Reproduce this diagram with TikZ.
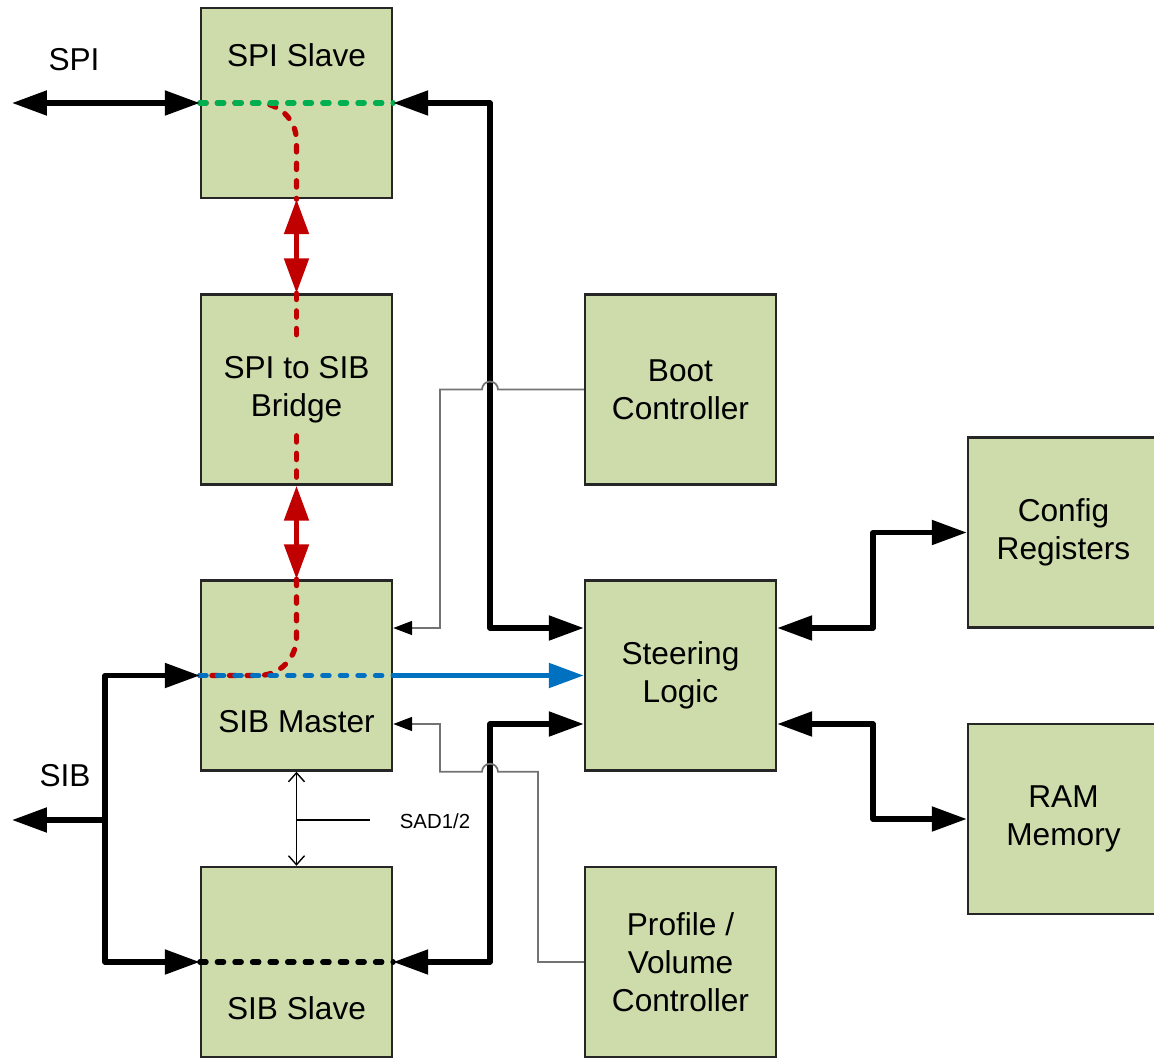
\documentclass[tikz,border=0pt]{standalone}
\usepackage{fontspec}
\setmainfont{Liberation Sans}
\usetikzlibrary{arrows.meta,calc}
\definecolor{blockgreen}{RGB}{205,220,170}
\definecolor{sibred}{RGB}{192,0,0}
\definecolor{spigreen}{RGB}{0,176,80}
\definecolor{sibblue}{RGB}{0,112,192}
\definecolor{ctrlgray}{RGB}{115,115,115}
\begin{document}
\begin{tikzpicture}[
    font=\fontsize{9}{10.8}\selectfont,
    >={Triangle[length=3.5mm,width=2.4mm]},
    block/.style={shape=rectangle,draw=black!85,line width=0.7pt,fill=blockgreen,minimum width=1.91cm,minimum height=1.90cm,align=center,inner sep=1pt},
    bus/.style={line width=1.5pt,line join=round},
    redbus/.style={sibred,line width=1.5pt,<->},
    bluebus/.style={sibblue,line width=1.5pt,->},
    busdash/.style={line width=1.5pt,line cap=round,dash pattern=on 1.8pt off 3.2pt},
    redpath/.style={busdash,sibred,rounded corners=3.8mm},
    ctrl/.style={ctrlgray,line width=0.5pt,-{Triangle[length=1.9mm,width=1.4mm,black]}},
    sadline/.style={line width=0.4pt},
    sadarrow/.style={sadline,{Straight Barb[length=0.9mm,width=1.6mm]}-{Straight Barb[length=0.9mm,width=1.6mm]}}
]
    \useasboundingbox (0,0) rectangle (11.54,-10.59);

    \node[block] (spislave) at (2.965,-1.03) {};
    \node (spislavetxt) at (2.965,-0.55) {SPI Slave};
    \node[block] (bridge) at (2.965,-3.895) {};
    \node[align=center] (bridgetxt) at (2.965,-3.90) {SPI to SIB\\Bridge};
    \node[block] (sibmaster) at (2.965,-6.755) {};
    \node (sibmastertxt) at (2.965,-7.22) {SIB Master};
    \node[block] (sibslave) at (2.965,-9.62) {};
    \node (sibslavetxt) at (2.965,-10.08) {SIB Slave};
    \node[block] (boot) at (6.805,-3.895) {Boot\\Controller};
    \node[block] (steer) at (6.805,-6.755) {Steering\\Logic};
    \node[block] (profile) at (6.805,-9.62) {Profile /\\Volume\\Controller};
    \node[block] (config) at (10.635,-5.325) {Config\\Registers};
    \node[block] (ram) at (10.635,-8.19) {RAM\\Memory};

    \node (spilabel) at (0.74,-0.60) {SPI};
    \node (siblabel) at (0.65,-7.76) {SIB};
    \node[font=\fontsize{5.8}{7}\selectfont] (sadlabel) at (4.35,-8.21) {SAD1/2};

    \coordinate (spiend) at (0.12,-1.03);
    \coordinate (sibend) at (0.12,-8.20);
    \coordinate (sibjoint) at (1.05,-8.20);
    \coordinate (sadend) at (3.70,-8.20);
    \coordinate (lefttrunk) at (4.90,0);
    \coordinate (righttrunk) at (8.73,0);
    \coordinate (ctrltrunk) at (4.40,0);
    \coordinate (proftrunk) at (5.38,0);
    \coordinate (steerwup) at ([yshift=4.75mm]steer.west);
    \coordinate (steerwdown) at ([yshift=-4.85mm]steer.west);
    \coordinate (steereup) at ([yshift=4.75mm]steer.east);
    \coordinate (steeredown) at ([yshift=-4.85mm]steer.east);
    \coordinate (masterup) at ([yshift=4.75mm]sibmaster.east);
    \coordinate (masterdown) at ([yshift=-4.85mm]sibmaster.east);

    \draw[redpath] (spislave.west) -| (spislave.south);
    \draw[busdash,spigreen] (spislave.west) -- (spislave.east);
    \draw[redbus] (spislave.south) -- (bridge.north);
    \draw[redpath] (bridge.north) -- (bridgetxt.north);
    \draw[redpath] (bridgetxt.south) -- (bridge.south);
    \draw[redbus] (bridge.south) -- (sibmaster.north);
    \draw[redpath] (sibmaster.north) |- (sibmaster.west);
    \draw[busdash,sibblue] (sibmaster.west) -- (sibmaster.east);
    \draw[bluebus] (sibmaster.east) -- (steer.west);
    \draw[busdash,black] (sibslave.west) -- (sibslave.east);

    \draw[bus,<->] (spiend) -- (spislave.west);
    \draw[bus,<->] (spislave.east) -| (lefttrunk |- steerwup) -- (steerwup);
    \draw[bus,<->] (sibslave.east) -| (lefttrunk |- steerwdown) -- (steerwdown);
    \draw[bus,->] (sibjoint) -- (sibend);
    \draw[bus,->] (sibjoint) |- (sibmaster.west);
    \draw[bus,->] (sibjoint) |- (sibslave.west);
    \draw[bus,<->] (steereup) -| (righttrunk |- config.west) -- (config.west);
    \draw[bus,<->] (steeredown) -| (righttrunk |- ram.west) -- (ram.west);

    \draw[ctrl] (boot.west) -- ($(lefttrunk |- boot.west)+(0.08,0)$) arc[start angle=0,end angle=180,radius=0.08] -- (ctrltrunk |- boot.west) |- (masterup);
    \draw[ctrl] (profile.west) -| (proftrunk |- sibmaster.south) -- ($(lefttrunk |- sibmaster.south)+(0.08,0)$) arc[start angle=0,end angle=180,radius=0.08] -- (ctrltrunk |- sibmaster.south) |- (masterdown);

    \draw[sadarrow] (sibmaster.south) -- (sibslave.north);
    \draw[sadline] (sibmaster.south |- sadend) -- (sadend);
\end{tikzpicture}
\end{document}
